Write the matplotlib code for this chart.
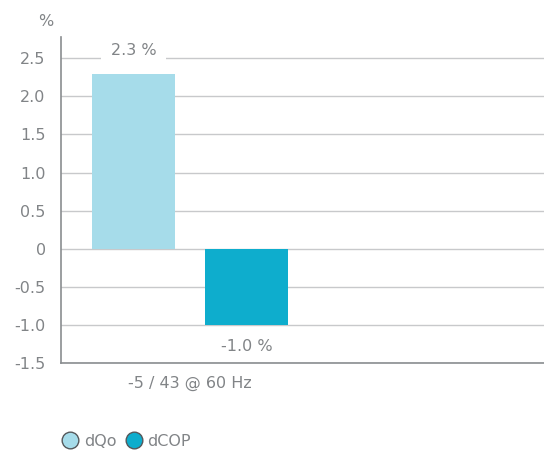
import matplotlib.pyplot as plt
from matplotlib.lines import Line2D

category = '-5 / 43 @ 60 Hz'
series = ['dQo', 'dCOP']
values = [2.3, -1.0]
colors = ['#a6dcea', '#0eadcd']
yticks = [-1.5, -1.0, -0.5, 0, 0.5, 1.0, 1.5, 2.0, 2.5]
ytick_labels = ['-1.5', '-1.0', '-0.5', '0', '0.5', '1.0', '1.5', '2.0', '2.5']

plt.rcParams['font.family'] = ['DejaVu Sans']
grey = '#818487'
fs = 11.5

fig = plt.figure(figsize=(5.44, 4.53), dpi=100)
ax = fig.add_axes([61/544, 90/453, 483/544, 326/453])

width = 0.35
offsets = [-0.238, 0.238]
for v, c, off in zip(values, colors, offsets):
    ax.bar(off, v, width=width, color=c, zorder=3)
    if v >= 0:
        ax.text(off, v + 0.3, f'{v:.1f} %', ha='center', va='center', color=grey,
                fontsize=fs, zorder=4,
                bbox=dict(facecolor='white', edgecolor='none', pad=7))
    else:
        ax.text(off, v - 0.28, f'{v:.1f} %', ha='center', va='center', color=grey,
                fontsize=fs, zorder=4)

ax.set_xlim(-0.544, 1.493)
ax.set_ylim(-1.5, 2.78)
ax.set_yticks(yticks)
ax.set_yticklabels(ytick_labels)
ax.set_xticks([0])
ax.set_xticklabels([category])
ax.tick_params(axis='both', length=0, colors=grey, labelsize=fs)
ax.tick_params(axis='y', pad=11)
ax.tick_params(axis='x', pad=9)
ax.grid(axis='y', color='#c8c9cb', linewidth=1, zorder=0)
for s in ['top', 'right']:
    ax.spines[s].set_visible(False)
for s in ['left', 'bottom']:
    ax.spines[s].set_color('#8a8d90')
    ax.spines[s].set_linewidth(1.2)

fig.text(46/544, 1 - 22/453, '%', ha='center', va='center', color=grey, fontsize=fs)

handles = [Line2D([0], [0], marker='o', linestyle='none', markersize=12,
                  markerfacecolor=c, markeredgecolor='#55585b', markeredgewidth=1)
           for c in colors]
leg = fig.legend(handles, series, loc='center left', bbox_to_anchor=(44/544, 1 - 441/453),
                 frameon=False, ncol=2, handletextpad=0.1, columnspacing=0.35,
                 handlelength=1.5, fontsize=fs, labelcolor=grey)

fig.savefig('out.png', dpi=100)
